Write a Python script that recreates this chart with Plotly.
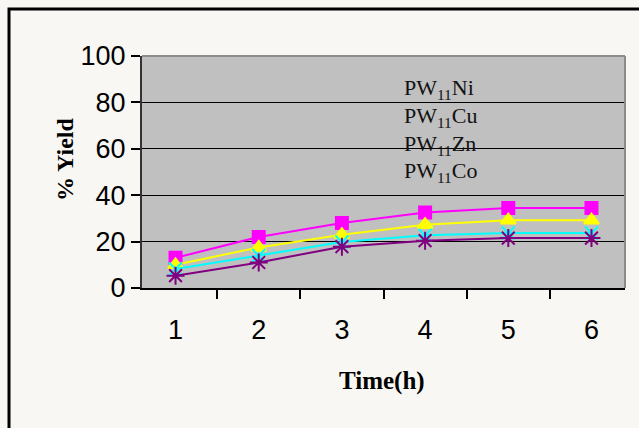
import plotly.graph_objects as go

# Reaction time (h) and % yield per catalyst
time_h = ["1", "2", "3", "4", "5", "6"]
series_names = ["PW<sub>11</sub>Ni", "PW<sub>11</sub>Cu", "PW<sub>11</sub>Zn", "PW<sub>11</sub>Co"]
yield_ni = [13, 22, 28, 32.5, 34.5, 34.5]
yield_cu = [10, 17.5, 23, 27.3, 29.2, 29.2]
yield_zn = [8.2, 14, 19.8, 22.7, 23.7, 23.7]
yield_co = [5.3, 11, 17.8, 20.4, 21.5, 21.5]

series_values = [yield_ni, yield_cu, yield_zn, yield_co]
colors = ["#FF00FF", "#FFFF00", "#00FFFF", "#800080"]
symbols = ["square", "triangle-up", "x-thin-open", "asterisk-open"]
msizes = [12, 13, 13, 15]

W, H = 639, 428
L, R, T, B = 142, 14, 56, 140
pw, ph = W - L - R, H - T - B

def px_x(x):
    return (x - L) / pw

def px_y(y):
    return (H - B - y) / ph

fig = go.Figure()
for name, vals, c, s, ms in zip(series_names, series_values, colors, symbols, msizes):
    fig.add_trace(go.Scatter(
        x=time_h, y=vals, name=name, mode="lines+markers",
        line=dict(color=c, width=2),
        marker=dict(symbol=s, size=ms, color=c, line=dict(color=c, width=2)),
        showlegend=False,
    ))

# series labels stacked inside the plot area
for i, name in enumerate(series_names):
    fig.add_annotation(
        x=px_x(402), y=px_y(89 + i * 27.8), xref="paper", yref="paper",
        text=name, showarrow=False, xanchor="left", yanchor="middle",
        font=dict(family="Liberation Serif", size=22, color="#111"),
    )

# axis titles
fig.add_annotation(
    x=px_x(65), y=px_y(159), xref="paper", yref="paper",
    text="<b>% Yield</b>", textangle=-90, showarrow=False,
    xanchor="center", yanchor="middle",
    font=dict(family="Liberation Serif", size=24, color="#000"),
)
fig.add_annotation(
    x=px_x(382), y=px_y(381), xref="paper", yref="paper",
    text="<b>Time(h)</b>", showarrow=False,
    xanchor="center", yanchor="middle",
    font=dict(family="Liberation Serif", size=25, color="#000"),
)

# outer chart frame (runs off the right and bottom edges)
fig.add_shape(
    type="rect", xref="paper", yref="paper",
    x0=px_x(9), y0=px_y(9), x1=px_x(700), y1=px_y(500),
    line=dict(color="#000", width=3), fillcolor="rgba(0,0,0,0)", layer="below",
)
# plot area border on top and right
fig.add_shape(type="line", xref="paper", yref="paper", x0=0, x1=1, y0=1, y1=1,
              line=dict(color="#8c8c8c", width=2))
fig.add_shape(type="line", xref="paper", yref="paper", x0=1, x1=1, y0=0, y1=1,
              line=dict(color="#8c8c8c", width=2))

fig.update_layout(
    width=W, height=H,
    margin=dict(l=L, r=R, t=T, b=B),
    paper_bgcolor="#F8F7F3",
    plot_bgcolor="#C0C0C0",
    xaxis=dict(
        type="category", tickson="boundaries", ticks="outside", ticklen=9,
        tickwidth=1.5, tickcolor="#000", showgrid=False,
        showline=True, linecolor="#000", linewidth=2,
        tickfont=dict(family="Liberation Sans", size=27, color="#000"),
        ticklabelstandoff=17,
    ),
    yaxis=dict(
        range=[0, 100], tickvals=[0, 20, 40, 60, 80, 100], ticks="outside",
        ticklen=9, tickwidth=1.5, tickcolor="#000",
        showgrid=True, gridcolor="#000", gridwidth=1,
        showline=True, linecolor="#333", linewidth=2, zeroline=False,
        tickfont=dict(family="Liberation Sans", size=27, color="#000"),
    ),
)

fig.write_html("out.html")
